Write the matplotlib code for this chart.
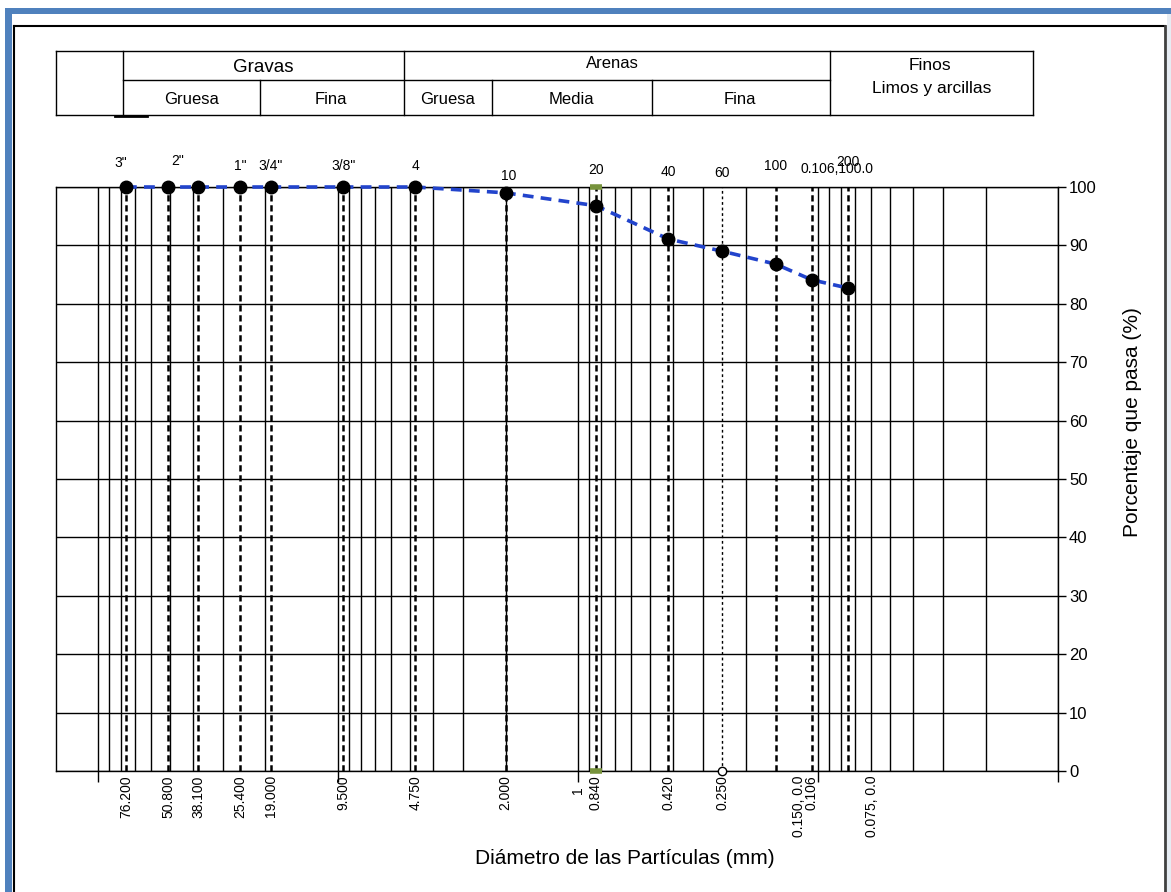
# Curva granulométrica (tamizado) - réplica del gráfico de Excel

import matplotlib
matplotlib.use("Agg")
import matplotlib.pyplot as plt
from matplotlib.lines import Line2D
from matplotlib.patches import Rectangle
from matplotlib.ticker import LogLocator, NullFormatter

plt.rcParams['font.family'] = ['Liberation Sans', 'DejaVu Sans']

# datos del ensayo
sieve_mm = [76.2, 50.8, 38.1, 25.4, 19.0, 9.5, 4.75, 2.0, 0.84, 0.42, 0.25, 0.15, 0.106, 0.075]
pct_pass = [100, 100, 100, 100, 100, 100, 100, 99.0, 96.8, 91.1, 89.0, 86.8, 84.1, 82.7]
sieve_names = ['3"', '2"', '', '1"', '3/4"', '3/8"', '4', '10', '20', '40', '60', '100',
               '0.106,100.0', '200']
bottom_labels = ['76.200', '50.800', '38.100', '25.400', '19.000', '9.500', '4.750', '2.000',
                 '0.840', '0.420', '0.250', '0.150, 0.0', '0.106', '0.075, 0.0']
y_ticks = list(range(0, 101, 10))

# posiciones de las etiquetas (solo estilo)
name_y = [104.1, 104.5, 0, 103.6, 103.6, 103.6, 103.6, 101.9, 102.9, 102.6, 102.4, 103.6, 103.0, 104.2]
name_dx = [-4, 7, 0, 0, 0, 0, 0, 2, 0, 0, 0, 0, 18, 0]
bottom_dx = [0, 0, 0, 0, 0, 0, 0, 0, 0, 0, 0, 17, 0, 17]

W, H = 1171, 892

def fx(x):
    return x / W

def fy(y):
    return 1 - y / H

fig = plt.figure(figsize=(W / 100, H / 100), dpi=100)

# marco exterior azul y marco negro
fig.add_artist(Rectangle((fx(5), fy(14)), fx(1171) - fx(5), fy(8) - fy(14),
                         transform=fig.transFigure, color='#4F81BD', lw=0))
fig.add_artist(Rectangle((fx(5), 0), fx(12) - fx(5), fy(8),
                         transform=fig.transFigure, color='#4F81BD', lw=0))
fig.add_artist(Rectangle((fx(1167), 0), fx(1171) - fx(1167), fy(14),
                         transform=fig.transFigure, color='#E6ECF3', lw=0))

def line(x0, y0, x1, y1, lw=1.0, c='black'):
    fig.add_artist(Line2D([fx(x0), fx(x1)], [fy(y0), fy(y1)],
                          transform=fig.transFigure, color=c, lw=lw))

line(13.5, 26, 13.5, 892, lw=1.5)
line(13.5, 26, 1165, 26, lw=1.5)
line(1165, 26, 1165, 892, lw=2, c='#404040')

# tabla de clasificación
line(56, 51, 1033, 51)
line(123, 80, 830, 80)
line(56, 115, 1033, 115)
line(115, 115.5, 147, 115.5, lw=2)
for xv in [56, 123, 404, 830, 1033]:
    line(xv, 51, xv, 115)
for xv in [260, 492, 652]:
    line(xv, 80, xv, 115)

fig.text(fx(263), fy(67), 'Gravas', ha='center', va='center', fontsize=13.5)
fig.text(fx(612), fy(64), 'Arenas', ha='center', va='center', fontsize=12)
fig.text(fx(930), fy(65), 'Finos', ha='center', va='center', fontsize=12.5)
fig.text(fx(932), fy(89), 'Limos y arcillas', ha='center', va='center', fontsize=12.5)
for txt, xc in [('Gruesa', 192), ('Fina', 331), ('Gruesa', 448), ('Media', 571), ('Fina', 740)]:
    fig.text(fx(xc), fy(99), txt, ha='center', va='center', fontsize=12)

# gráfico
ax = fig.add_axes([fx(56), fy(771), (1058 - 56) / W, (771 - 187) / H])
ax.set_xscale('log')
ax.set_xlim(149, 0.01)
ax.set_ylim(0, 100)

ax.set_xticks([100, 10, 1, 0.1, 0.01])
ax.set_xticklabels(['', '', '1', '', ''], rotation=90, fontsize=10)
ax.xaxis.set_minor_locator(LogLocator(base=10, subs=range(2, 10)))
ax.xaxis.set_minor_formatter(NullFormatter())
ax.tick_params(axis='x', which='major', length=8, width=1, direction='out', pad=3)
ax.tick_params(axis='x', which='minor', length=0)
ax.grid(True, which='both', axis='x', color='black', lw=1.0)

ax.yaxis.tick_right()
ax.set_yticks(y_ticks)
ax.tick_params(axis='y', length=6, width=1, direction='out', labelsize=12, pad=2)
ax.grid(True, which='major', axis='y', color='black', lw=1.0)
for s in ax.spines.values():
    s.set_color('black')
    s.set_linewidth(1.0)

# líneas verticales de cada tamiz
for i, d in enumerate(sieve_mm):
    if d == 0.25:
        ax.plot([d, d], [0, 100], color='black', lw=1.0, ls=(0, (2, 2)), zorder=3)
        ax.plot(d, 0, 'o', ms=6, mfc='white', mec='black', mew=1, zorder=4, clip_on=False)
    else:
        ax.plot([d, d], [0, 100], color='black', lw=1.8, ls=(0, (2.5, 1.5)), zorder=3)

ax.plot([0.84, 0.84], [100, 0], ls='none', marker='_', ms=9, mew=4,
        color='#77933C', zorder=5, clip_on=False)

# curva granulométrica
ax.plot(sieve_mm, pct_pass, color='#2244CC', lw=2.6, ls=(0, (3, 2)), zorder=4, clip_on=False)
ax.plot(sieve_mm, pct_pass, 'o', color='black', ms=9, zorder=5, clip_on=False)

for d, name, yy, dx in zip(sieve_mm, sieve_names, name_y, name_dx):
    if name:
        ax.annotate(name, (d, yy), xytext=(dx, 0), textcoords='offset points',
                    ha='center', va='center', fontsize=10, annotation_clip=False)

for d, lab, dx in zip(sieve_mm, bottom_labels, bottom_dx):
    ax.annotate(lab, (d, 0), xytext=(dx, -3), textcoords='offset points',
                ha='center', va='top', rotation=90, fontsize=10, annotation_clip=False)

fig.text(fx(625), fy(858), 'Diámetro de las Partículas (mm)', ha='center', va='center', fontsize=15)
fig.text(fx(1132), fy(422), 'Porcentaje que pasa (%)', ha='center', va='center',
         rotation=90, fontsize=15)

fig.savefig('out.png', dpi=100)
